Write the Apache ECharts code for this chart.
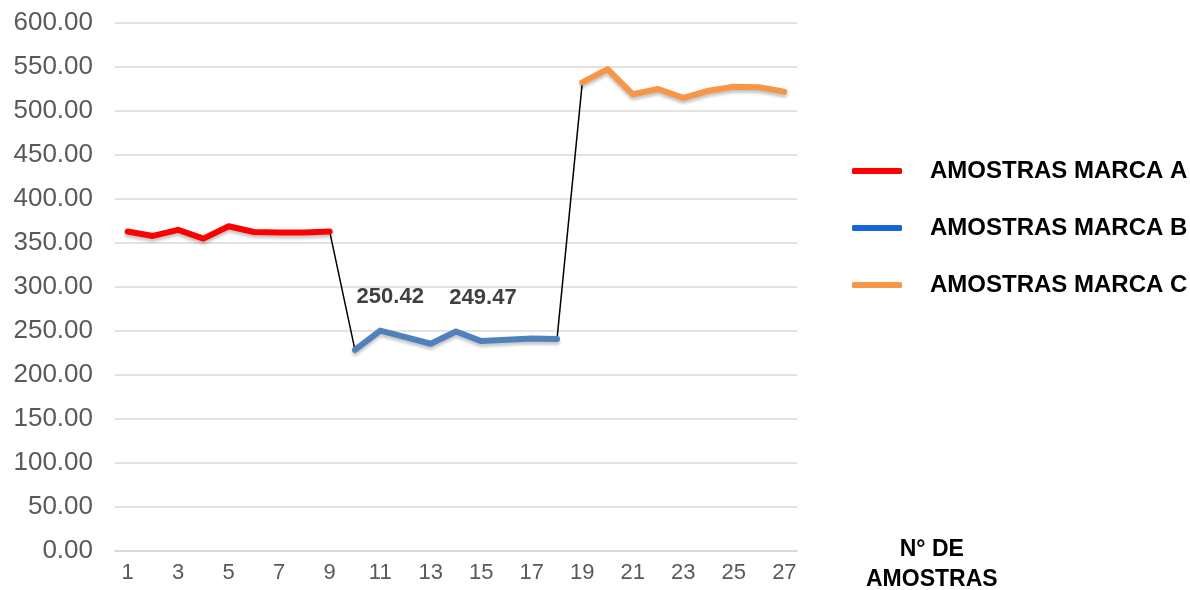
<!DOCTYPE html>
<html>
<head>
<meta charset="utf-8">
<script src="https://cdn.jsdelivr.net/npm/echarts@6/dist/echarts.min.js"></script>
<style>html,body{margin:0;padding:0;background:#fff}#c{width:1190px;height:590px}</style>
</head>
<body>
<div id="c"></div>
<script>
// Categories: sample numbers
var categories = [];
for (var i = 1; i <= 27; i++) categories.push(String(i));
// Series values
var marcaA = [363, 358, 365, 355, 369, 362.5, 362, 362, 363];
var marcaB = [228.5, 250.42, 243, 235.5, 249.47, 238.5, 240, 241.5, 241];
var marcaC = [532.5, 547.5, 519, 525, 515, 523, 527.5, 527, 522];
var labelIdxB = [1, 4];
var seriesNames = ['AMOSTRAS MARCA A', 'AMOSTRAS MARCA B', 'AMOSTRAS MARCA C'];
var yTicks = { min: 0, max: 600, interval: 50 };

function place(arr, start) {
  var out = [];
  for (var k = 0; k < categories.length; k++) out.push(null);
  arr.forEach(function (v, j) { out[start + j] = v; });
  return out;
}
var dataA = place(marcaA, 0);
var dataB = place(marcaB, 9).map(function (v, k) {
  var j = k - 9;
  if (j >= 0 && labelIdxB.indexOf(j) >= 0) {
    return {
      value: v,
      label: {
        show: true,
        formatter: function (p) { return Number(p.value).toFixed(2); },
        position: 'top',
        offset: j === 1 ? [10, -17] : [27, -17],
        fontFamily: 'Liberation Sans, Arial, sans-serif',
        fontWeight: 'bold',
        fontSize: 22,
        color: '#404040'
      }
    };
  }
  return v;
});
var dataC = place(marcaC, 18);
// connector segments between brands
var connector = [];
for (var k = 0; k < categories.length; k++) connector.push(null);
connector[8] = marcaA[8]; connector[9] = marcaB[0];
connector[17] = marcaB[8]; connector[18] = marcaC[0];

var shadow = { shadowColor: 'rgba(0,0,0,0.22)', shadowBlur: 3, shadowOffsetY: 3 };

var chart = echarts.init(document.getElementById('c'), null, { renderer: 'canvas' });
chart.setOption({
  animation: false,
  backgroundColor: '#ffffff',
  grid: { left: 115, right: 393, top: 23, bottom: 39, containLabel: false },
  xAxis: {
    type: 'category',
    data: categories,
    boundaryGap: true,
    axisLine: { show: true, lineStyle: { color: '#d9d9d9', width: 2 } },
    axisTick: { show: false },
    axisLabel: {
      interval: 1,
      margin: 11,
      fontFamily: 'Liberation Sans, Arial, sans-serif',
      fontSize: 22,
      color: '#595959'
    }
  },
  yAxis: {
    type: 'value',
    min: yTicks.min, max: yTicks.max, interval: yTicks.interval,
    axisLine: { show: false },
    axisTick: { show: false },
    splitLine: { lineStyle: { color: '#d9d9d9', width: 1.5 } },
    axisLabel: {
      margin: 22,
      formatter: function (v) { return v.toFixed(2); },
      fontFamily: 'Liberation Sans, Arial, sans-serif',
      fontSize: 26,
      color: '#595959'
    }
  },
  legend: {
    orient: 'vertical',
    left: 847,
    top: 154,
    itemWidth: 50,
    itemHeight: 6,
    itemGap: 33,
    icon: 'roundRect',
    data: [
      { name: seriesNames[0], itemStyle: { color: '#ff0000' } },
      { name: seriesNames[1], itemStyle: { color: '#1464dc' } },
      { name: seriesNames[2], itemStyle: { color: '#f79646' } }
    ],
    textStyle: {
      fontFamily: 'Liberation Sans, Arial, sans-serif',
      fontWeight: 'bold',
      fontSize: 24,
      color: '#000000',
      padding: [0, 0, 0, 23]
    }
  },
  graphic: [{
    type: 'text',
    left: 866,
    top: 535,
    style: {
      text: 'N° DE\nAMOSTRAS',
      textAlign: 'center',
      font: 'bold 23px "Liberation Sans", Arial, sans-serif',
      fill: '#000000',
      lineHeight: 30
    }
  }],
  series: [
    {
      name: 'connector',
      type: 'line',
      data: connector,
      connectNulls: false,
      showSymbol: false,
      silent: true,
      lineStyle: { color: '#000000', width: 1.5 },
      itemStyle: { color: '#000000' },
      z: 1
    },
    {
      name: seriesNames[0],
      type: 'line',
      data: dataA,
      showSymbol: false,
      lineStyle: Object.assign({ color: '#ff0000', width: 6, cap: 'round', join: 'round' }, shadow),
      itemStyle: { color: '#ff0000' },
      z: 3
    },
    {
      name: seriesNames[1],
      type: 'line',
      data: dataB,
      showSymbol: true,
      symbol: 'circle',
      symbolSize: 1,
      lineStyle: Object.assign({ color: '#4f81bd', width: 6, cap: 'round', join: 'round' }, shadow),
      itemStyle: { color: '#4f81bd' },
      z: 3
    },
    {
      name: seriesNames[2],
      type: 'line',
      data: dataC,
      showSymbol: false,
      lineStyle: Object.assign({ color: '#f79646', width: 6, cap: 'round', join: 'round' }, shadow),
      itemStyle: { color: '#f79646' },
      z: 3
    }
  ]
});
</script>
</body>
</html>
